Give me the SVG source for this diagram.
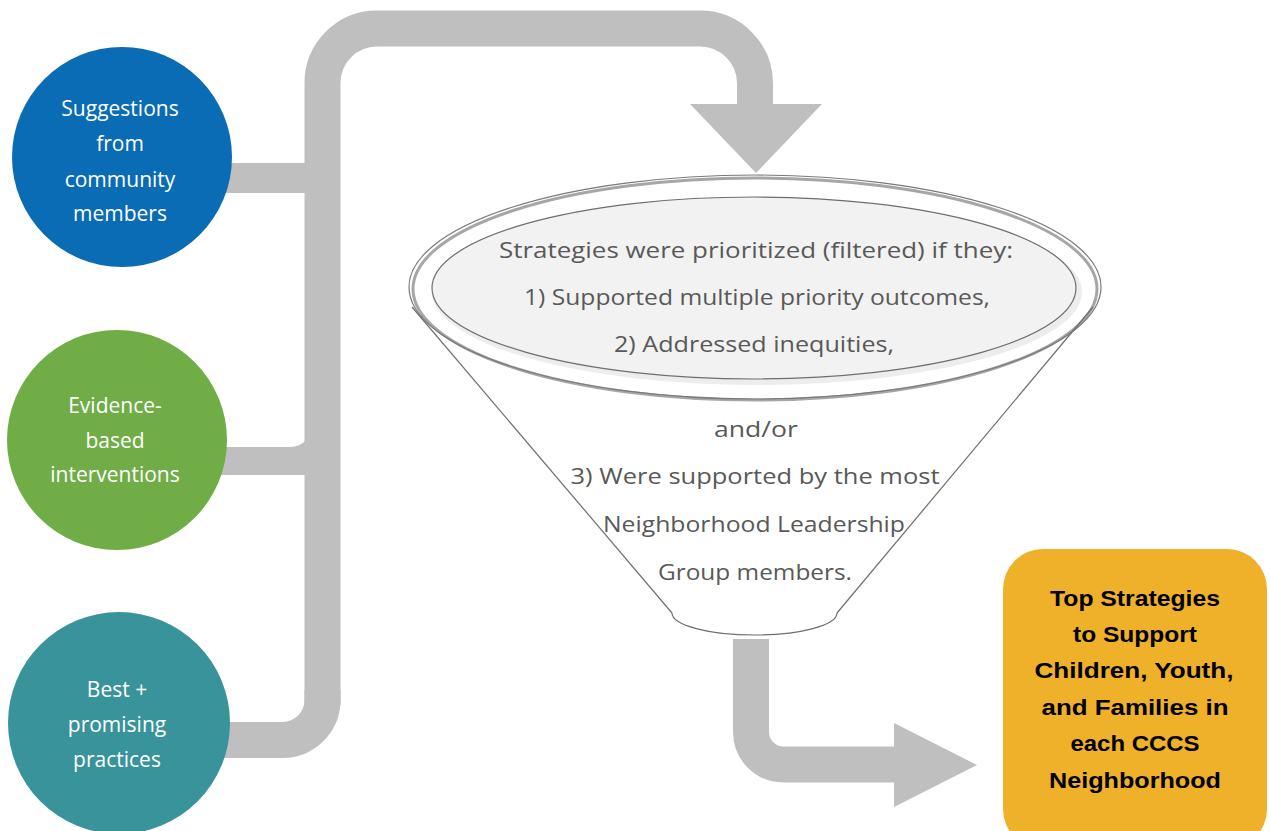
<svg xmlns="http://www.w3.org/2000/svg" width="1270" height="831" viewBox="0 0 1270 831">
<style>
.conn{fill:none;stroke:#BFBFBF;stroke-width:36}
.cfill{fill:#BFBFBF}
.ct{font-family:"Open Sans","Liberation Sans",sans-serif;font-size:21px;fill:#FFFFFF;text-anchor:middle}
.ft{font-family:"Open Sans","Liberation Sans",sans-serif;font-size:22px;fill:#595959;text-anchor:middle}
.bt{font-family:"Liberation Sans","Open Sans",sans-serif;font-size:22px;font-weight:bold;fill:#000000;text-anchor:middle}
.cone{fill:none;stroke:#6E6E6E;stroke-width:1.2}
</style>
<rect width="1270" height="831" fill="#FFFFFF"/>
<g id="connectors">
  <path class="conn" d="M 322.5 705 L 322.5 83 A 54.5 54.5 0 0 1 377 28.5 L 700 28.5 A 55 55 0 0 1 755 83.5 L 755 106"/>
  <polygon class="cfill" points="690,104 822,104 756,173"/>
  <path class="conn" d="M 322.5 690 L 322.5 700 A 40 40 0 0 1 282.5 740 L 220 740"/>
  <rect class="cfill" x="220" y="163" width="90" height="30"/>
  <path class="cfill" d="M 215 447 L 290 447 Q 300 447 306 440 L 306 475 L 215 475 Z"/>
  <path class="conn" d="M 751 639 L 751 732 A 32.5 32.5 0 0 0 783.5 764.5 L 896 764.5"/>
  <polygon class="cfill" points="894,723 977,765 894,807"/>
</g>
<g id="node-suggestions">
  <circle cx="122" cy="157" r="110" fill="#0A6CB5"/>
  <text class="ct" x="120" y="116">Suggestions</text>
  <text class="ct" x="120" y="151">from</text>
  <text class="ct" x="120" y="187">community</text>
  <text class="ct" x="120" y="221">members</text>
</g>
<g id="node-evidence">
  <circle cx="117" cy="440" r="110" fill="#70AD47"/>
  <text class="ct" x="115" y="413">Evidence-</text>
  <text class="ct" x="115" y="448">based</text>
  <text class="ct" x="115" y="482">interventions</text>
</g>
<g id="node-best">
  <circle cx="119" cy="723" r="111" fill="#39939A"/>
  <text class="ct" x="117" y="697">Best +</text>
  <text class="ct" x="117" y="732">promising</text>
  <text class="ct" x="117" y="767">practices</text>
</g>
<g id="node-funnel">
  <ellipse cx="755" cy="287" rx="346" ry="112" fill="#FFFFFF"/>
  <ellipse cx="755" cy="289" rx="342" ry="111" fill="none" stroke="#A6A6A6" stroke-width="3"/>
  <ellipse cx="755" cy="287" rx="346" ry="112" fill="none" stroke="#7A7A7A" stroke-width="1.2"/>
  <line class="cone" x1="412" y1="307" x2="672" y2="613"/>
  <line class="cone" x1="1093" y1="307" x2="837" y2="613"/>
  <path class="cone" d="M 672 613 A 82.5 22 0 0 0 837 613"/>
  <ellipse cx="757" cy="292" rx="325" ry="93" fill="#EDEDED"/>
  <ellipse cx="754" cy="288" rx="322" ry="91" fill="#F2F2F2" stroke="#6E6E6E" stroke-width="1.2"/>
  <text class="ft" x="756" y="258" textLength="514" lengthAdjust="spacingAndGlyphs">Strategies were prioritized (filtered) if they:</text>
  <text class="ft" x="757" y="305" textLength="466" lengthAdjust="spacingAndGlyphs">1) Supported multiple priority outcomes,</text>
  <text class="ft" x="754" y="352" textLength="280" lengthAdjust="spacingAndGlyphs">2) Addressed inequities,</text>
  <text class="ft" x="756" y="437" textLength="84" lengthAdjust="spacingAndGlyphs">and/or</text>
  <text class="ft" x="755" y="484" textLength="369" lengthAdjust="spacingAndGlyphs">3) Were supported by the most</text>
  <text class="ft" x="754" y="532" textLength="302" lengthAdjust="spacingAndGlyphs">Neighborhood Leadership</text>
  <text class="ft" x="755" y="580" textLength="194" lengthAdjust="spacingAndGlyphs">Group members.</text>
</g>
<g id="node-top-strategies">
  <rect x="1003" y="549" width="264" height="300" rx="40" ry="40" fill="#EFB02A"/>
  <text class="bt" x="1135" y="606" textLength="170" lengthAdjust="spacingAndGlyphs">Top Strategies</text>
  <text class="bt" x="1135" y="642" textLength="124" lengthAdjust="spacingAndGlyphs">to Support</text>
  <text class="bt" x="1134" y="678" textLength="199" lengthAdjust="spacingAndGlyphs">Children, Youth,</text>
  <text class="bt" x="1135" y="715" textLength="187" lengthAdjust="spacingAndGlyphs">and Families in</text>
  <text class="bt" x="1135" y="751" textLength="129" lengthAdjust="spacingAndGlyphs">each CCCS</text>
  <text class="bt" x="1135" y="788" textLength="172" lengthAdjust="spacingAndGlyphs">Neighborhood</text>
</g>
</svg>
